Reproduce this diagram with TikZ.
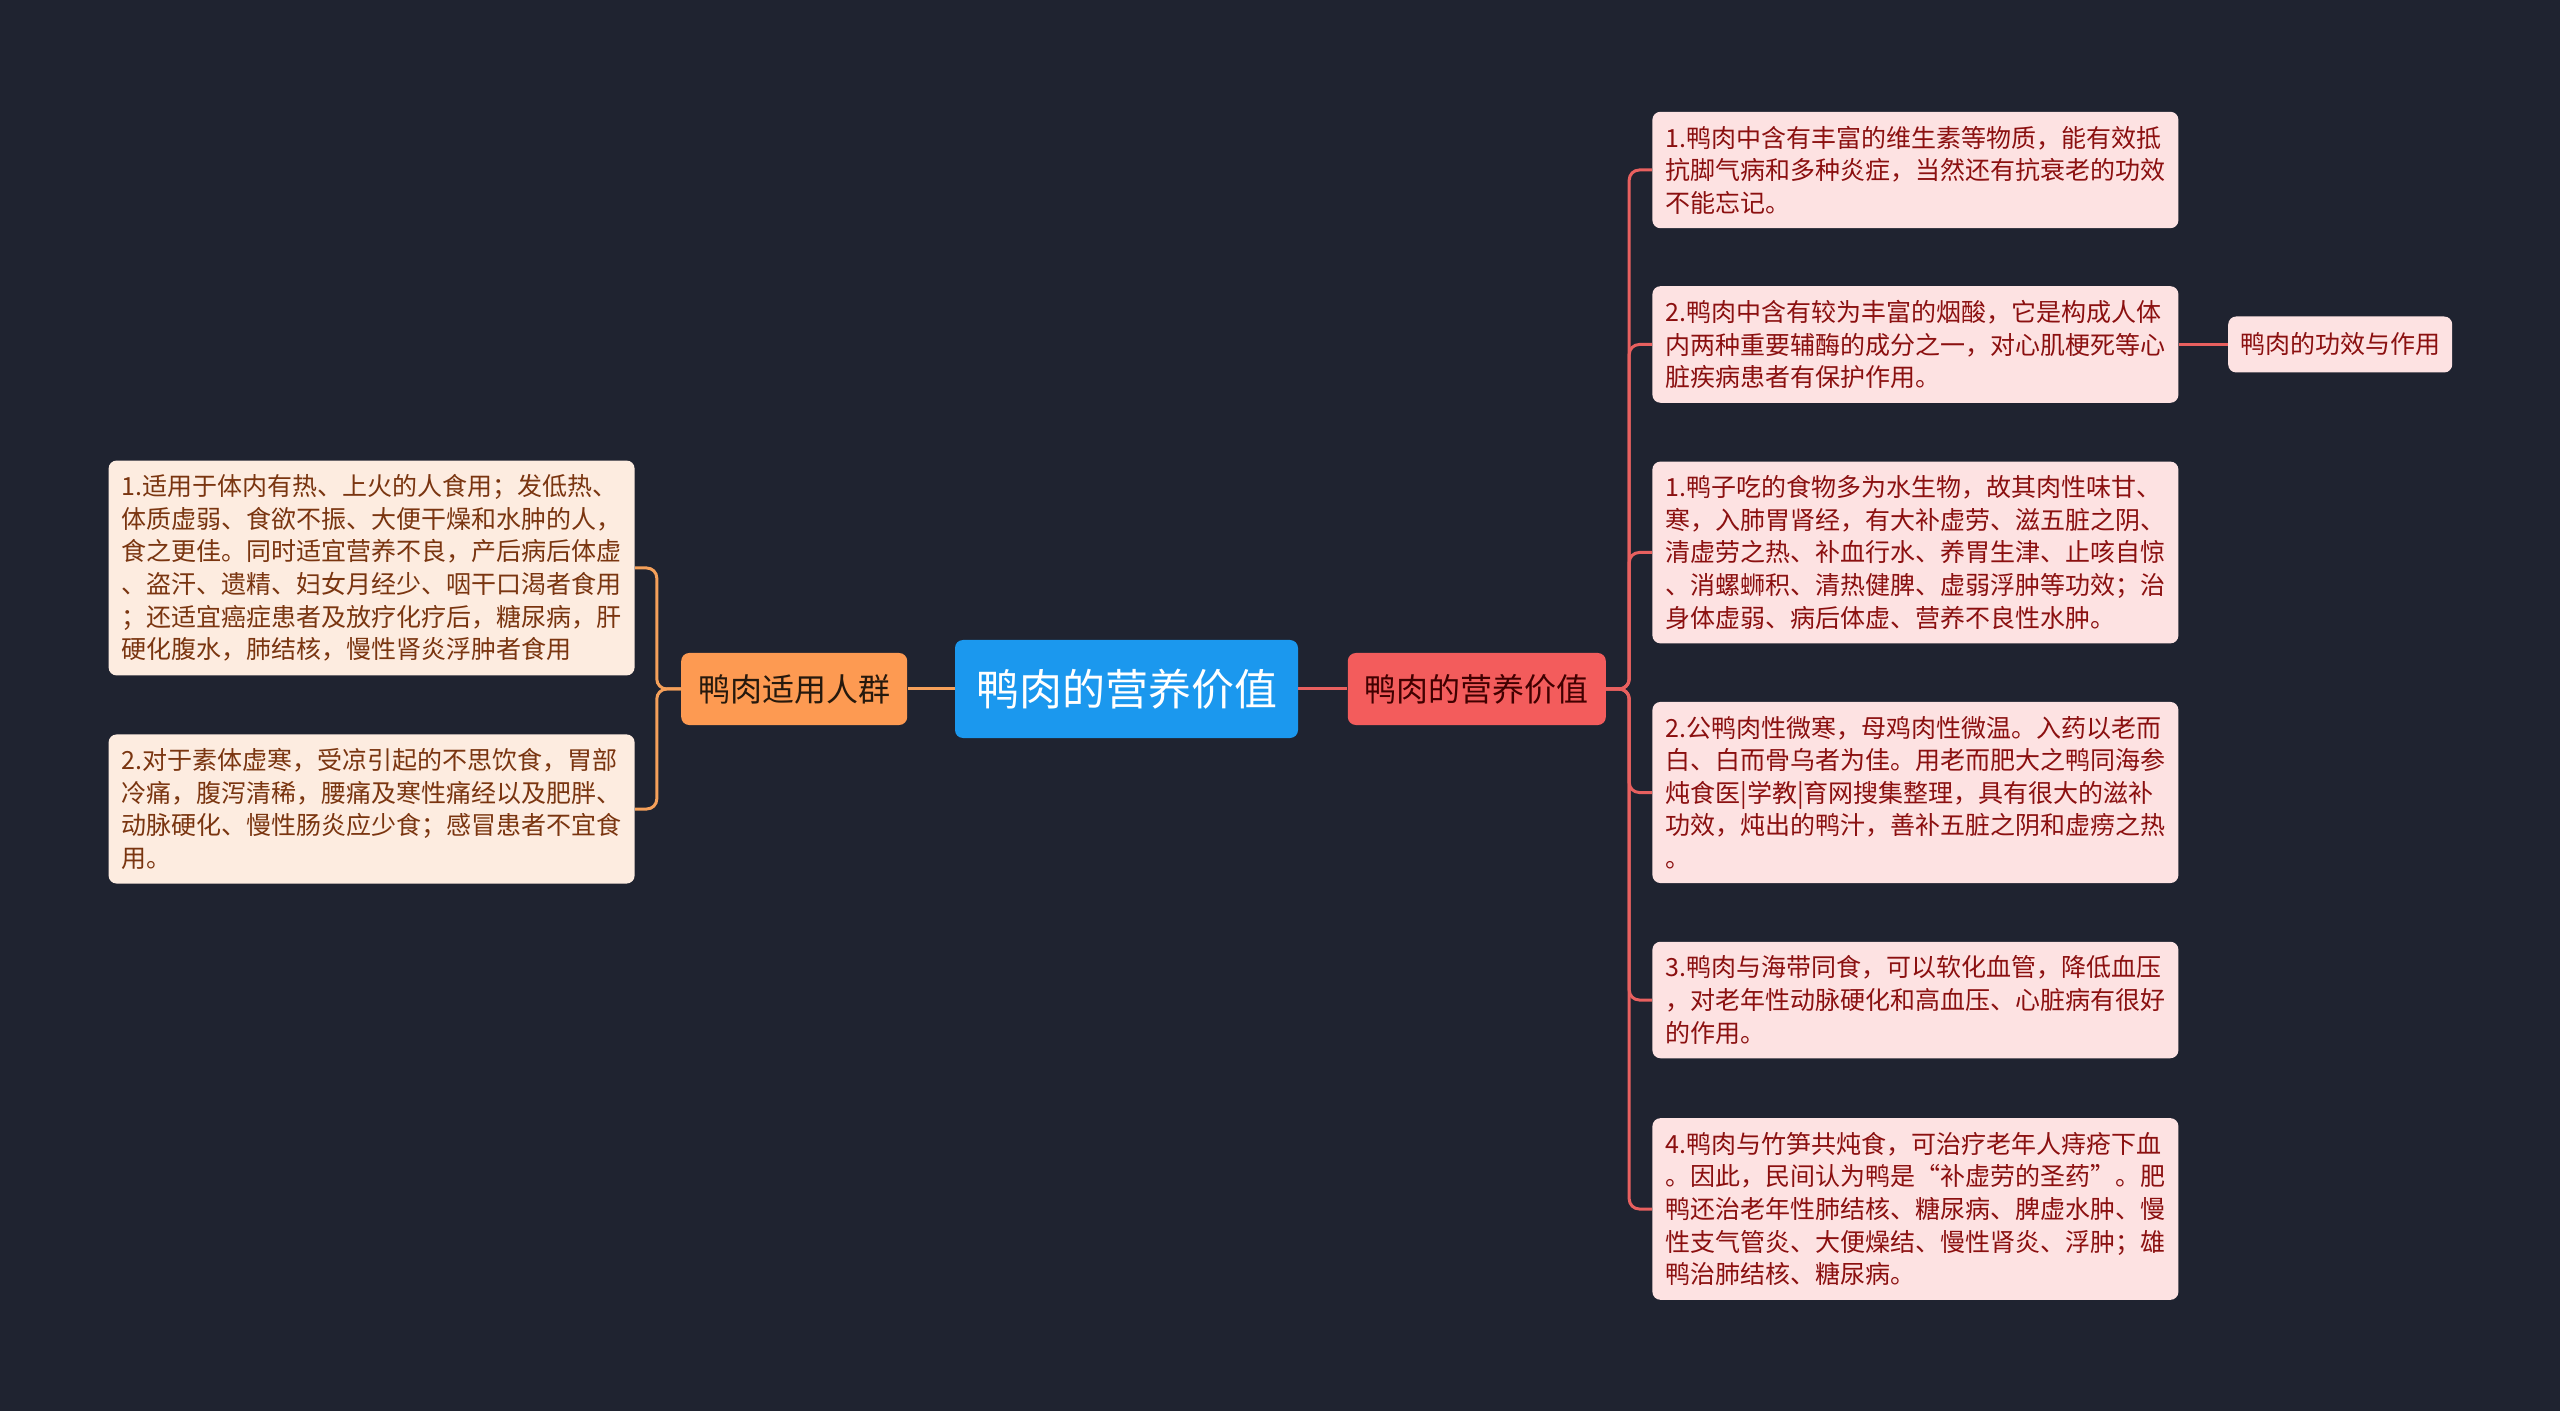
\documentclass[tikz,border=0pt]{standalone}
\usepackage{fontspec}
\setmainfont{Noto Sans CJK SC}
\usetikzlibrary{positioning}

\definecolor{bgdark}{HTML}{1F2330}
\definecolor{rootblue}{HTML}{1B98EE}
\definecolor{grouporange}{HTML}{FD9A52}
\definecolor{valuered}{HTML}{F35C5C}
\definecolor{peachfill}{HTML}{FDECE0}
\definecolor{pinkfill}{HTML}{FDE2E2}
\definecolor{browntext}{HTML}{7A3510}
\definecolor{redtext}{HTML}{8B1010}
\definecolor{orangeline}{HTML}{F5A05A}
\definecolor{redline}{HTML}{E8605F}

\begin{document}
\begin{tikzpicture}[x=0.5pt,y=-0.5pt,
      root node/.style={rectangle,rounded corners=4pt,fill=rootblue,text=white,
        font=\fontsize{21.5}{26}\selectfont,inner xsep=10.5pt,minimum height=49pt},
      group node/.style={rectangle,rounded corners=4pt,inner xsep=8.5pt,
        minimum height=36pt,font=\fontsize{16}{20}\selectfont},
      leaf node/.style={rectangle,rounded corners=4pt,text width=250pt,align=left,
        inner xsep=6.5pt,inner ysep=7pt,font=\fontsize{12.5}{16.3}\selectfont},
      left leaf/.style={leaf node,fill=peachfill,text=browntext,anchor=east},
      right leaf/.style={leaf node,fill=pinkfill,text=redtext,anchor=west},
      orange link/.style={draw=orangeline,line width=1.5pt,rounded corners=5pt},
      red link/.style={draw=redline,line width=1.5pt,rounded corners=5pt}]

      \fill[bgdark] (0,0) rectangle (2560,1411);
      \useasboundingbox (0,0) rectangle (2560,1411);

      \node[root node] (root) at (1126.5,689) {鸭肉的营养价值};
      \node[group node,fill=grouporange,text=black!80!brown] (group) [left=23.5pt of root] {鸭肉适用人群};
      \node[group node,fill=valuered,text=black!75!red] (value) [right=24.5pt of root] {鸭肉的营养价值};

      % left side
      \node[left leaf] (u1) at (635,568) {1.适用于体内有热、上火的人食用；发低热、\\体质虚弱、食欲不振、大便干燥和水肿的人，\\食之更佳。同时适宜营养不良，产后病后体虚\\、盗汗、遗精、妇女月经少、咽干口渴者食用\\；还适宜癌症患者及放疗化疗后，糖尿病，肝\\硬化腹水，肺结核，慢性肾炎浮肿者食用};
      \node[left leaf] (u2) at (635,809) {2.对于素体虚寒，受凉引起的不思饮食，胃部\\冷痛，腹泻清稀，腰痛及寒性痛经以及肥胖、\\动脉硬化、慢性肠炎应少食；感冒患者不宜食\\用。};

      % right side
      \node[right leaf] (v1) at (1652,170) {1.鸭肉中含有丰富的维生素等物质，能有效抵\\抗脚气病和多种炎症，当然还有抗衰老的功效\\不能忘记。};
      \node[right leaf] (v2) at (1652,344.5) {2.鸭肉中含有较为丰富的烟酸，它是构成人体\\内两种重要辅酶的成分之一，对心肌梗死等心\\脏疾病患者有保护作用。};
      \node[right leaf] (v3) at (1652,552.5) {1.鸭子吃的食物多为水生物，故其肉性味甘、\\寒，入肺胃肾经，有大补虚劳、滋五脏之阴、\\清虚劳之热、补血行水、养胃生津、止咳自惊\\、消螺蛳积、清热健脾、虚弱浮肿等功效；治\\身体虚弱、病后体虚、营养不良性水肿。};
      \node[right leaf] (v4) at (1652,792.5) {2.公鸭肉性微寒，母鸡肉性微温。入药以老而\\白、白而骨乌者为佳。用老而肥大之鸭同海参\\炖食医|学教|育网搜集整理，具有很大的滋补\\功效，炖出的鸭汁，善补五脏之阴和虚痨之热\\。};
      \node[right leaf] (v5) at (1652,1000) {3.鸭肉与海带同食，可以软化血管，降低血压\\，对老年性动脉硬化和高血压、心脏病有很好\\的作用。};
      \node[right leaf] (v6) at (1652,1209) {4.鸭肉与竹笋共炖食，可治疗老年人痔疮下血\\。因此，民间认为鸭是“补虚劳的圣药”。肥\\鸭还治老年性肺结核、糖尿病、脾虚水肿、慢\\性支气管炎、大便燥结、慢性肾炎、浮肿；雄\\鸭治肺结核、糖尿病。};
      \node[leaf node,text width=,fill=pinkfill,text=redtext,inner xsep=6pt,minimum height=28pt] (effect) [right=24.5pt of v2] {鸭肉的功效与作用};

      \draw[orange link] (root) -- (group);
      \draw[red link] (root) -- (value);
      \foreach \t in {u1,u2} {
          \draw[orange link] (group.west) -- ++(-24,0) |- (\t.east);}
      \foreach \t in {v1,v2,v3,v4,v5,v6} {
          \draw[red link] (value.east) -- ++(23,0) |- (\t.west);}
      \draw[red link] (v2) -- (effect);
\end{tikzpicture}
\end{document}
